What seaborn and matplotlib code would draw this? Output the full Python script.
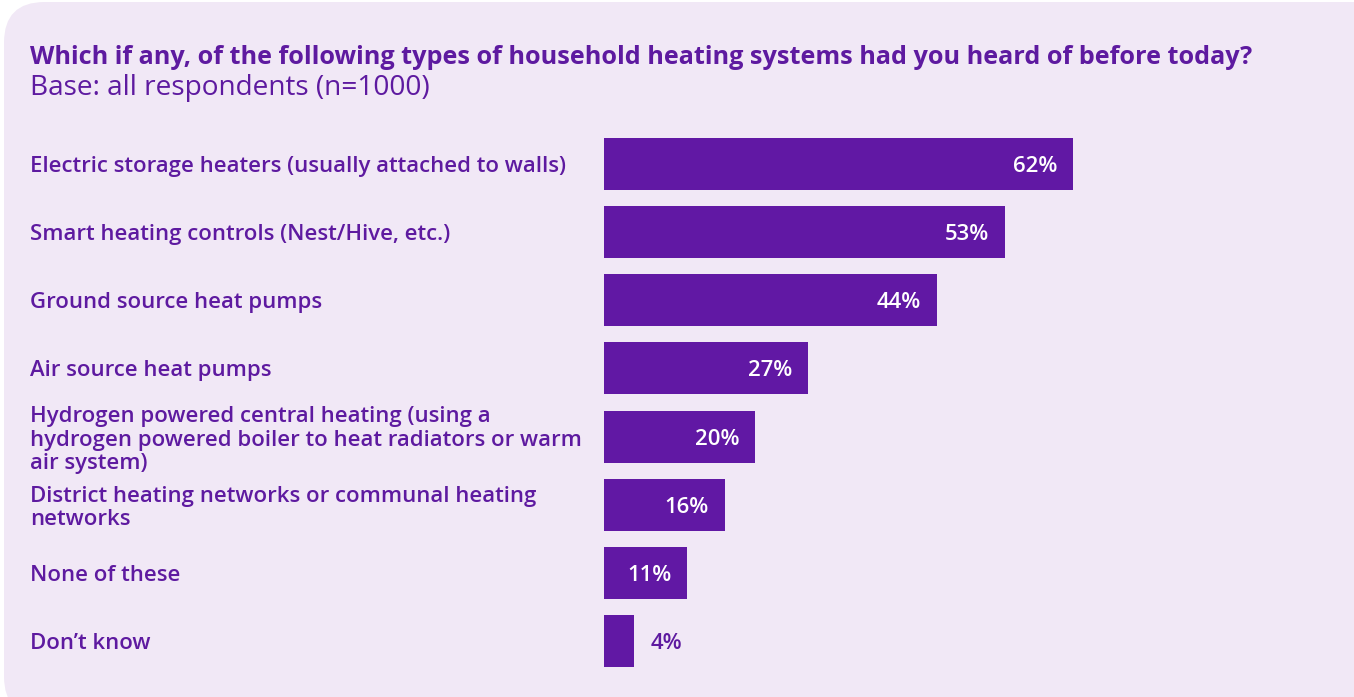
import matplotlib
matplotlib.use("Agg")
import matplotlib.pyplot as plt
import seaborn as sns
import pandas as pd
from matplotlib.patches import FancyBboxPatch

categories = [
    "Electric storage heaters (usually attached to walls)",
    "Smart heating controls (Nest/Hive, etc.)",
    "Ground source heat pumps",
    "Air source heat pumps",
    "Hydrogen powered central heating (using a\nhydrogen powered boiler to heat radiators or warm\nair system)",
    "District heating networks or communal heating\nnetworks",
    "None of these",
    "Don\u2019t know",
]
values = [62, 53, 44, 27, 20, 16, 11, 4]

title = "Which if any, of the following types of household heating systems had you heard of before today?"
subtitle = "Base: all respondents (n=1000)"

BAR = "#6118a4"
TEXT = "#5e1aa0"
PANEL = "#f1e8f6"
FONT = "Open Sans"

sns.set_theme(style="white")
plt.rcParams["font.family"] = [FONT, "DejaVu Sans"]

W, H = 1354, 697
fig = plt.figure(figsize=(W / 100, H / 100), dpi=100)
fig.patch.set_facecolor("white")

panel = FancyBboxPatch((4 / W, -20 / H), (W + 40) / W, (H + 18) / H,
                       boxstyle="round,pad=0,rounding_size=0.03",
                       transform=fig.transFigure, facecolor=PANEL, edgecolor="none",
                       mutation_aspect=W / H, zorder=-5)
fig.patches.append(panel)

ppx = 7.565  # pixels per percent
xmax = 97
left_px, top_px, bot_px = 604, 130, 675
ax = fig.add_axes([left_px / W, (H - bot_px) / H, xmax * ppx / W, (bot_px - top_px) / H])
ax.set_facecolor("none")
ax.set_zorder(2)

df = pd.DataFrame({"cat": categories, "val": values})
sns.barplot(data=df, x="val", y="cat", orient="h", color=BAR, saturation=1,
            width=0.765, linewidth=0, ax=ax)
ax.set_xlim(0, xmax)
ax.set_ylim(len(categories) - 0.5, -0.5)
ax.set_xlabel("")
ax.set_ylabel("")
ax.set_xticks([])
for s in ax.spines.values():
    s.set_visible(False)

renderer = fig.canvas.get_renderer()


def fit_size(text_obj, target_px, base):
    text_obj.set_fontsize(base)
    w = text_obj.get_window_extent(renderer).width
    return base * target_px / w


pad_pt = (left_px - 30) * 72 / 100
ax.tick_params(axis="y", length=0, pad=pad_pt)
labs = ax.get_yticklabels()
for lab in labs:
    lab.set_ha("left")
    lab.set_va("center_baseline")
    lab.set_color(TEXT)
    lab.set_fontweight("semibold")
lab_size = fit_size(labs[0], 533, 13)

# determine linespacing giving 24 px between baselines
probe1 = fig.text(0, 0, "Ag", fontsize=lab_size, fontweight="semibold", linespacing=1.0)
probe2 = fig.text(0, 0, "Ag\nAg", fontsize=lab_size, fontweight="semibold", linespacing=1.0)
h1 = probe1.get_window_extent(renderer).height
h2 = probe2.get_window_extent(renderer).height
step = h2 - h1
probe1.remove()
probe2.remove()
ls = 24.0 / step

for lab in labs:
    lab.set_fontsize(lab_size)
    lab.set_linespacing(ls)

off_pt = 16 * 72 / 100
for i, v in enumerate(values):
    if v >= 8:
        ax.annotate(f"{v}%", xy=(v, i), xytext=(-off_pt, 0), textcoords="offset points",
                    ha="right", va="center_baseline", color="white", fontsize=lab_size,
                    fontweight="semibold")
    else:
        ax.annotate(f"{v}%", xy=(v, i), xytext=(off_pt, 0), textcoords="offset points",
                    ha="left", va="center_baseline", color=TEXT, fontsize=lab_size,
                    fontweight="semibold")

t = fig.text(30 / W, 1 - 54 / H, title, ha="left", va="center_baseline", color=TEXT,
             fontsize=14.5, fontweight="bold")
t.set_fontsize(fit_size(t, 1223, 14.5))
st = fig.text(30 / W, 1 - 85 / H, subtitle, ha="left", va="center_baseline", color=TEXT,
              fontsize=16)
st.set_fontsize(fit_size(st, 402, 16))

fig.savefig("out.png", dpi=100, facecolor="white")
